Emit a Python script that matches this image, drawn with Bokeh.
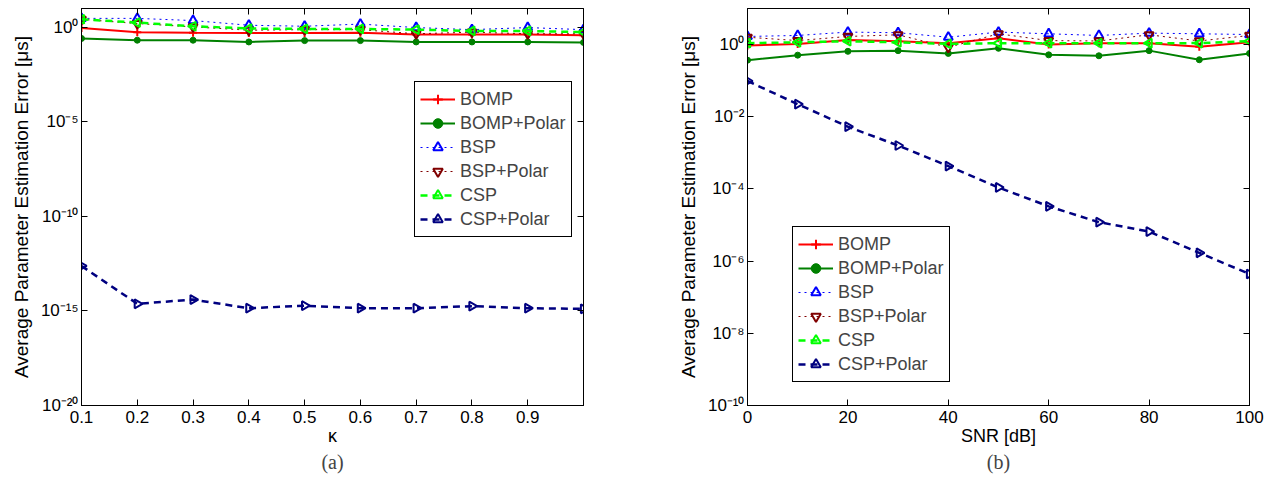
import math
from bokeh.plotting import figure
from bokeh.layouts import row
from bokeh.models import (Range1d, FixedTicker, LinearAxis, LogAxis, CustomJSTickFormatter,
                          Legend, LegendItem, Title)
from bokeh.embed import file_html
from bokeh.resources import INLINE

# ---------------- data ----------------
series_names = ["BOMP", "BOMP+Polar", "BSP", "BSP+Polar", "CSP", "CSP+Polar"]

kappa = [0.1, 0.2, 0.3, 0.4, 0.5, 0.6, 0.7, 0.8, 0.9, 1.0]
kappa_bomp = [0.93, 0.56, 0.52, 0.50, 0.50, 0.52, 0.42, 0.42, 0.42, 0.39]
kappa_bomp_polar = [0.26, 0.21, 0.21, 0.17, 0.20, 0.20, 0.17, 0.17, 0.17, 0.16]
kappa_bsp = [3.0, 3.0, 2.3, 1.3, 1.15, 1.5, 0.98, 0.76, 0.98, 0.76]
kappa_bsp_polar = [2.7, 1.6, 1.07, 0.71, 0.76, 0.76, 0.46, 0.56, 0.46, 0.46]
kappa_csp = [2.7, 1.8, 1.15, 0.87, 0.83, 0.83, 0.76, 0.65, 0.65, 0.56]
kappa_csp_polar = [2.4e-13, 2.4e-15, 4.0e-15, 1.4e-15, 1.9e-15, 1.4e-15, 1.4e-15, 1.8e-15, 1.4e-15, 1.3e-15]

snr = [0, 10, 20, 30, 40, 50, 60, 70, 80, 90, 100]
snr_bomp = [0.94, 1.04, 1.35, 1.24, 1.09, 1.5, 1.0, 1.09, 1.09, 0.87, 1.16]
snr_bomp_polar = [0.37, 0.51, 0.65, 0.68, 0.57, 0.79, 0.52, 0.49, 0.68, 0.38, 0.57]
snr_bsp = [1.68, 1.79, 2.22, 2.13, 1.6, 2.22, 1.99, 1.79, 2.08, 1.99, 1.9]
snr_bsp_polar = [1.6, 1.29, 1.68, 1.87, 0.84, 1.99, 1.29, 1.26, 1.87, 1.26, 1.79]
snr_csp = [1.09, 1.16, 1.24, 1.16, 1.05, 1.09, 1.09, 1.09, 1.09, 1.1, 1.24]
snr_csp_polar = [0.098, 0.0224, 5.3e-3, 1.6e-3, 4.3e-4, 1.1e-4, 3.3e-5, 1.2e-5, 6.6e-6, 1.7e-6, 4.4e-7]

kappa_ticks = [0.1, 0.2, 0.3, 0.4, 0.5, 0.6, 0.7, 0.8, 0.9]
kappa_yticks = [1e-20, 1e-15, 1e-10, 1e-5, 1e0]
snr_ticks = [0, 20, 40, 60, 80, 100]
snr_yticks = [1e-10, 1e-8, 1e-6, 1e-4, 1e-2, 1e0]

# ---------------- styles ----------------
styles = {
    "BOMP":       dict(color="#FF0000", dash="solid", lw=2, marker="cross", size=8, fill=None, angle=0.0),
    "BOMP+Polar": dict(color="#008000", dash="solid", lw=2, marker="circle", size=6, fill="#008000", angle=0.0),
    "BSP":        dict(color="#0000FF", dash="dotted", lw=1, marker="triangle", size=9, fill=None, angle=0.0),
    "BSP+Polar":  dict(color="#800000", dash="dotted", lw=1, marker="inverted_triangle", size=9, fill=None, angle=0.0),
    "CSP":        dict(color="#00FF00", dash="7 5", lw=2.5, marker="triangle", size=9, fill=None, angle=math.pi / 2),
    "CSP+Polar":  dict(color="#000080", dash="7 5", lw=2.5, marker="triangle", size=9, fill=None, angle=-math.pi / 2),
}

FONT = "Liberation Sans"

sup_js = """
const e = Math.round(Math.log10(tick));
const m = {'-':'\\u207B','0':'\\u2070','1':'\\u00B9','2':'\\u00B2','3':'\\u00B3','4':'\\u2074',
           '5':'\\u2075','6':'\\u2076','7':'\\u2077','8':'\\u2078','9':'\\u2079'};
return '10' + String(e).split('').map(c => m[c]).join('');
"""


def make_fig(x, ys, xr, yr, xticks, yticks, xlabel, caption, legend_loc, bl, br):
    p = figure(width=bl + 502 + br, height=488, x_range=Range1d(*xr), y_range=Range1d(*yr),
               y_axis_type="log", output_backend="svg", toolbar_location=None,
               min_border_left=bl, min_border_right=br, min_border_top=8, min_border_bottom=83)
    p.xgrid.visible = False
    p.ygrid.visible = False
    p.outline_line_color = "black"
    p.outline_line_width = 1
    p.outline_line_alpha = 1

    xt = FixedTicker(ticks=xticks, minor_ticks=[])
    yt = FixedTicker(ticks=yticks, minor_ticks=[])

    xa = p.xaxis[0]
    xa.ticker = xt
    xa.axis_label = xlabel
    ya = p.yaxis[0]
    ya.ticker = yt
    ya.formatter = CustomJSTickFormatter(code=sup_js)
    ya.axis_label = "Average Parameter Estimation Error [\u03bcs]"

    for ax in (xa, ya):
        ax.major_tick_in = 6
        ax.major_tick_out = 0
        ax.minor_tick_in = 0
        ax.minor_tick_out = 0
        ax.axis_line_color = "black"
        ax.major_tick_line_color = "black"
        ax.major_label_text_font = FONT
        ax.major_label_text_font_size = "17px"
        ax.major_label_text_color = "black"
        ax.axis_label_text_font = FONT
        ax.axis_label_text_font_style = "normal"
        ax.axis_label_text_color = "black"
    xa.axis_label_text_font_size = "18px"
    xa.major_label_standoff = 5
    xa.axis_label_standoff = 0
    ya.axis_label_text_font_size = "19px"
    ya.major_label_standoff = 3
    ya.axis_label_standoff = 6

    empty = CustomJSTickFormatter(code="return '';")
    top = LinearAxis(ticker=xt, formatter=empty, major_tick_in=6, major_tick_out=0,
                     major_label_standoff=0, major_label_text_font_size="1px",
                     axis_line_color="black")
    right = LogAxis(ticker=yt, formatter=empty, major_tick_in=6, major_tick_out=0,
                    major_label_standoff=0, major_label_text_font_size="1px",
                    axis_line_color="black")
    p.add_layout(top, "above")
    p.add_layout(right, "right")

    items = []
    for name, y in zip(series_names, ys):
        s = styles[name]
        lr = p.line(x, y, line_color=s["color"], line_width=s["lw"], line_dash=s["dash"])
        if s["fill"] is None:
            sr = p.scatter(x, y, marker=s["marker"], size=s["size"], angle=s["angle"],
                           line_color=s["color"], line_width=2, fill_color=None)
        else:
            sr = p.scatter(x, y, marker=s["marker"], size=s["size"], angle=s["angle"],
                           line_color=s["color"], line_width=1, fill_color=s["fill"])
        items.append(LegendItem(label=name, renderers=[lr, sr]))

    leg = Legend(items=items, location=legend_loc, border_line_color="black", border_line_width=1,
                 border_line_alpha=1, background_fill_color="white", background_fill_alpha=1,
                 label_text_font=FONT, label_text_font_size="18px", glyph_width=35,
                 glyph_height=24, label_height=24, spacing=0, padding=5, margin=0,
                 label_standoff=5)
    p.add_layout(leg)

    p.add_layout(Title(text=caption, align="center", text_font="Liberation Serif",
                       text_font_size="20px", text_font_style="normal", standoff=0), "below")
    return p


p1 = make_fig(kappa, [kappa_bomp, kappa_bomp_polar, kappa_bsp, kappa_bsp_polar, kappa_csp, kappa_csp_polar],
              (0.1, 1.0), (1e-20, 1e1), kappa_ticks, kappa_yticks, "\u03ba", "(a)", (333, 168), 81, 55)
p2 = make_fig(snr, [snr_bomp, snr_bomp_polar, snr_bsp, snr_bsp_polar, snr_csp, snr_csp_polar],
              (0, 100), (1e-10, 1e1), snr_ticks, snr_yticks, "SNR [dB]", "(b)", (45, 23), 109, 19)

layout = row(p1, p2)
open("out.html", "w", encoding="utf-8").write(file_html(layout, INLINE))
